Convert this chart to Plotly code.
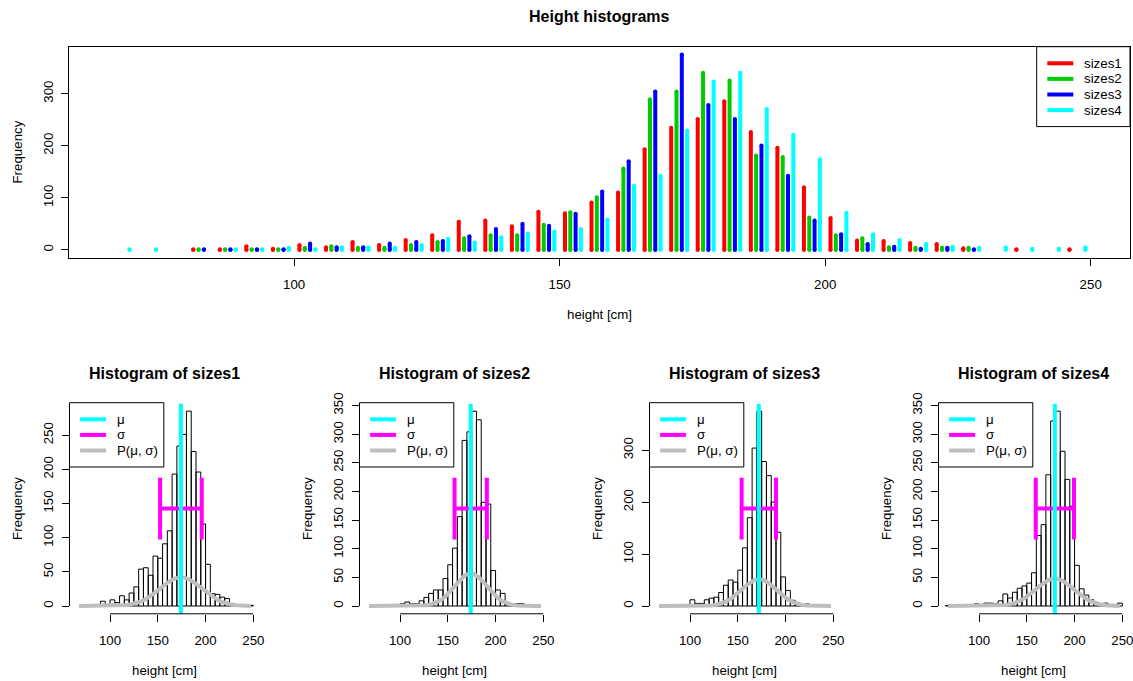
import math
import plotly.graph_objects as go

# ---------------- data ----------------
bin_mids = [67.5, 72.5, 77.5, 82.5, 87.5, 92.5, 97.5, 102.5, 107.5, 112.5,
            117.5, 122.5, 127.5, 132.5, 137.5, 142.5, 147.5, 152.5, 157.5, 162.5,
            167.5, 172.5, 177.5, 182.5, 187.5, 192.5, 197.5, 202.5, 207.5, 212.5,
            217.5, 222.5, 227.5, 232.5, 237.5, 242.5, 247.5]

series_names = ["sizes1", "sizes2", "sizes3", "sizes4"]

sizes1_counts = [0, 0, 0, 1, 1, 7, 2, 9, 5, 15, 9, 19, 28, 54, 56, 45, 73, 70, 91, 110,
                 193, 234, 251, 285, 226, 196, 120, 61, 18, 17, 13, 11, 3, 0, 1, 0, 1]
sizes2_counts = [0, 0, 0, 1, 1, 1, 1, 4, 7, 4, 4, 9, 15, 22, 28, 28, 48, 72, 101, 156,
                 289, 304, 340, 325, 181, 178, 62, 28, 22, 5, 4, 4, 4, 0, 0, 0, 0]
sizes3_counts = [0, 0, 0, 1, 1, 1, 1, 12, 5, 5, 12, 15, 17, 26, 40, 50, 46, 69, 112, 170,
                 304, 375, 278, 251, 200, 142, 56, 30, 11, 6, 2, 4, 1, 0, 0, 0, 0]
sizes4_counts = [1, 1, 0, 0, 1, 1, 4, 1, 5, 5, 4, 9, 21, 14, 24, 31, 35, 40, 58, 123,
                 142, 229, 323, 340, 270, 221, 174, 71, 30, 19, 11, 6, 4, 5, 2, 2, 5]
all_counts = [sizes1_counts, sizes2_counts, sizes3_counts, sizes4_counts]

mu_values = [174.2, 174.0, 172.0, 179.4]        # mean (cyan line)
sigma_values = [21.8, 16.9, 18.0, 20.0]         # standard deviation (magenta bar)
curve_peaks = [42, 57, 52, 48]                  # peak of the fitted density curve

x_ticks = [100, 150, 200, 250]
top_y_ticks = [0, 100, 200, 300]
bottom_y_ticks = [[0, 50, 100, 150, 200, 250],
                  [0, 50, 100, 150, 200, 250, 300, 350],
                  [0, 100, 200, 300],
                  [0, 50, 100, 150, 200, 250, 300, 350]]
x_limits = [65, 250]

legend_labels_bottom = ["\u03bc", "\u03c3", "P(\u03bc, \u03c3)"]

# ---------------- styles ----------------
W, H = 1133, 681
FONT = "Liberation Sans, Arial, sans-serif"
FS = 13.3
series_colors = ["#FF0000", "#00CD00", "#0000FF", "#00FFFF"]
bar_offsets = [-1.5, -0.5, 0.5, 1.5]
stat_colors = ["#00FFFF", "#FF00FF", "#BEBEBE"]
SIGMA_HALF = 0.158


def px(x):
    return x / W


def py(y):
    return 1 - y / H


def expand(lo, hi):
    d = (hi - lo) * 0.04
    return [lo - d, hi + d]


xr = expand(*x_limits)

fig = go.Figure()

# ---------------- top chart ----------------
top_box = (69, 1130, 46.7, 257.7)  # left, right, top, bottom in px
max_all = max(max(c) for c in all_counts)
top_yr = expand(0, max_all)

for name, counts, col, off in zip(series_names, all_counts, series_colors, bar_offsets):
    sx, sy, cx, cy = [], [], [], []
    for m, c in zip(bin_mids, counts):
        if c > 0:
            xx = m + off
            sx += [xx, xx, None]
            sy += [0, c, None]
            cx += [xx, xx]
            cy += [0, c]
    fig.add_trace(go.Scatter(x=sx, y=sy, mode="lines", line=dict(color=col, width=4),
                             name=name, showlegend=False, hoverinfo="skip",
                             xaxis="x", yaxis="y"))
    fig.add_trace(go.Scatter(x=cx, y=cy, mode="markers",
                             marker=dict(color=col, size=4.2, line=dict(width=0)),
                             showlegend=False, hoverinfo="skip", xaxis="x", yaxis="y"))

axis_common = dict(showgrid=False, zeroline=False, ticks="outside", ticklen=7,
                   tickwidth=1, tickcolor="black", color="black",
                   ticklabeloverflow="allow",
                   tickfont=dict(family=FONT, size=FS, color="black"))

layout = dict(
    width=W, height=H, autosize=False,
    margin=dict(l=0, r=0, t=0, b=0, pad=0, autoexpand=False),
    paper_bgcolor="white", plot_bgcolor="white",
    font=dict(family=FONT, size=FS, color="black"),
    showlegend=False,
    xaxis=dict(domain=[px(top_box[0]), px(top_box[1])], range=xr, anchor="y",
               tickvals=x_ticks, ticktext=[str(t) for t in x_ticks],
               showline=True, mirror=True, linecolor="black", linewidth=1,
               ticklabelstandoff=7, **axis_common),
    yaxis=dict(domain=[py(top_box[3]), py(top_box[2])], range=top_yr, anchor="x",
               tickvals=top_y_ticks, ticktext=[str(t) for t in top_y_ticks],
               tickangle=-90, showline=True, mirror=True, linecolor="black",
               linewidth=1, ticklabelstandoff=3, **axis_common),
)

shapes = []
annotations = []


def add_text(text, x, y, size=FS, bold=False, angle=0, xanchor="center"):
    annotations.append(dict(text=("<b>%s</b>" % text) if bold else text,
                            x=px(x), y=py(y), xref="paper", yref="paper",
                            showarrow=False, xanchor=xanchor, yanchor="middle",
                            textangle=angle,
                            font=dict(family=FONT, size=size, color="black")))


def add_legend(left, top, width, colors, labels):
    n = len(labels)
    shapes.append(dict(type="rect", xref="paper", yref="paper",
                       x0=px(left), x1=px(left + width),
                       y0=py(top), y1=py(top + 15.6 * n + 17.5),
                       line=dict(color="black", width=1), fillcolor="white"))
    for i, (c, lab) in enumerate(zip(colors, labels)):
        yy = top + 16.6 + 15.6 * i
        shapes.append(dict(type="line", xref="paper", yref="paper",
                           x0=px(left + 10.6), x1=px(left + 36.6),
                           y0=py(yy), y1=py(yy), line=dict(color=c, width=4)))
        add_text(lab, left + 45.5, yy, xanchor="left")


top_cx = (top_box[0] + top_box[1]) / 2
add_text("Height histograms", top_cx, 16.5, size=16, bold=True)
add_text("Frequency", 17.3, (top_box[2] + top_box[3]) / 2, angle=-90)
add_text("height [cm]", top_cx, 314)
add_legend(1036.7, top_box[2], 93.3, series_colors, series_names)

# ---------------- bottom histograms ----------------
panel_lefts = [69.5, 359.5, 649.5, 938.5]
panel_width = 190.9
p_top, p_bot = 403.4, 613.8

for k in range(4):
    ax = k + 2
    xa, ya = "x%d" % ax, "y%d" % ax
    counts = all_counts[k]
    M = max(counts)
    yr = expand(0, M)
    mu, sd, peak = mu_values[k], sigma_values[k], curve_peaks[k]
    left = panel_lefts[k]

    # histogram bars (only within the series' own bin range)
    nz = [i for i, c in enumerate(counts) if c > 0]
    i0, i1 = nz[0], nz[-1]
    fig.add_trace(go.Bar(x=bin_mids[i0:i1 + 1], y=counts[i0:i1 + 1], width=5,
                         marker=dict(color="rgba(255,255,255,0)",
                                     line=dict(color="black", width=1)),
                         hoverinfo="skip", xaxis=xa, yaxis=ya))
    # fitted normal curve
    curve = [peak * math.exp(-0.5 * ((m - mu) / sd) ** 2) for m in bin_mids]
    fig.add_trace(go.Scatter(x=bin_mids, y=curve, mode="lines",
                             line=dict(color=stat_colors[2], width=4),
                             hoverinfo="skip", xaxis=xa, yaxis=ya))
    # sigma bar
    yc, dh = M / 2, SIGMA_HALF * M
    fig.add_trace(go.Scatter(
        x=[mu - sd, mu + sd, None, mu - sd, mu - sd, None, mu + sd, mu + sd],
        y=[yc, yc, None, yc - dh, yc + dh, None, yc - dh, yc + dh],
        mode="lines", line=dict(color=stat_colors[1], width=4),
        hoverinfo="skip", xaxis=xa, yaxis=ya))
    # mean line
    fig.add_trace(go.Scatter(x=[mu, mu], y=yr, mode="lines",
                             line=dict(color=stat_colors[0], width=4),
                             hoverinfo="skip", xaxis=xa, yaxis=ya))

    ticks = bottom_y_ticks[k]
    layout["xaxis%d" % ax] = dict(domain=[px(left), px(left + panel_width)], range=xr,
                                  anchor=ya, tickvals=x_ticks,
                                  ticktext=[str(t) for t in x_ticks],
                                  showline=False, ticklabelstandoff=7, **axis_common)
    layout["yaxis%d" % ax] = dict(domain=[py(p_bot), py(p_top)], range=yr, anchor=xa,
                                  tickvals=ticks, ticktext=[str(t) for t in ticks],
                                  tickangle=-90, showline=False, ticklabelstandoff=3,
                                  **axis_common)
    shapes.append(dict(type="line", xref=xa, yref=ya + " domain",
                       x0=x_ticks[0], x1=x_ticks[-1], y0=0, y1=0,
                       line=dict(color="black", width=1)))
    shapes.append(dict(type="line", xref=xa + " domain", yref=ya,
                       x0=0, x1=0, y0=ticks[0], y1=ticks[-1],
                       line=dict(color="black", width=1)))

    cx = left + panel_width / 2
    add_text("Histogram of %s" % series_names[k], cx, 373.3, size=16, bold=True)
    add_text("Frequency", left - 52.2, (p_top + p_bot) / 2, angle=-90)
    add_text("height [cm]", cx, 670)
    add_legend(left, p_top - 0.7, 94.3, stat_colors, legend_labels_bottom)

layout["shapes"] = shapes
layout["annotations"] = annotations
fig.update_layout(**layout)

fig.write_html("out.html", config={"displayModeBar": False},
               post_script="document.body.style.margin='0';document.body.style.overflow='hidden';")
